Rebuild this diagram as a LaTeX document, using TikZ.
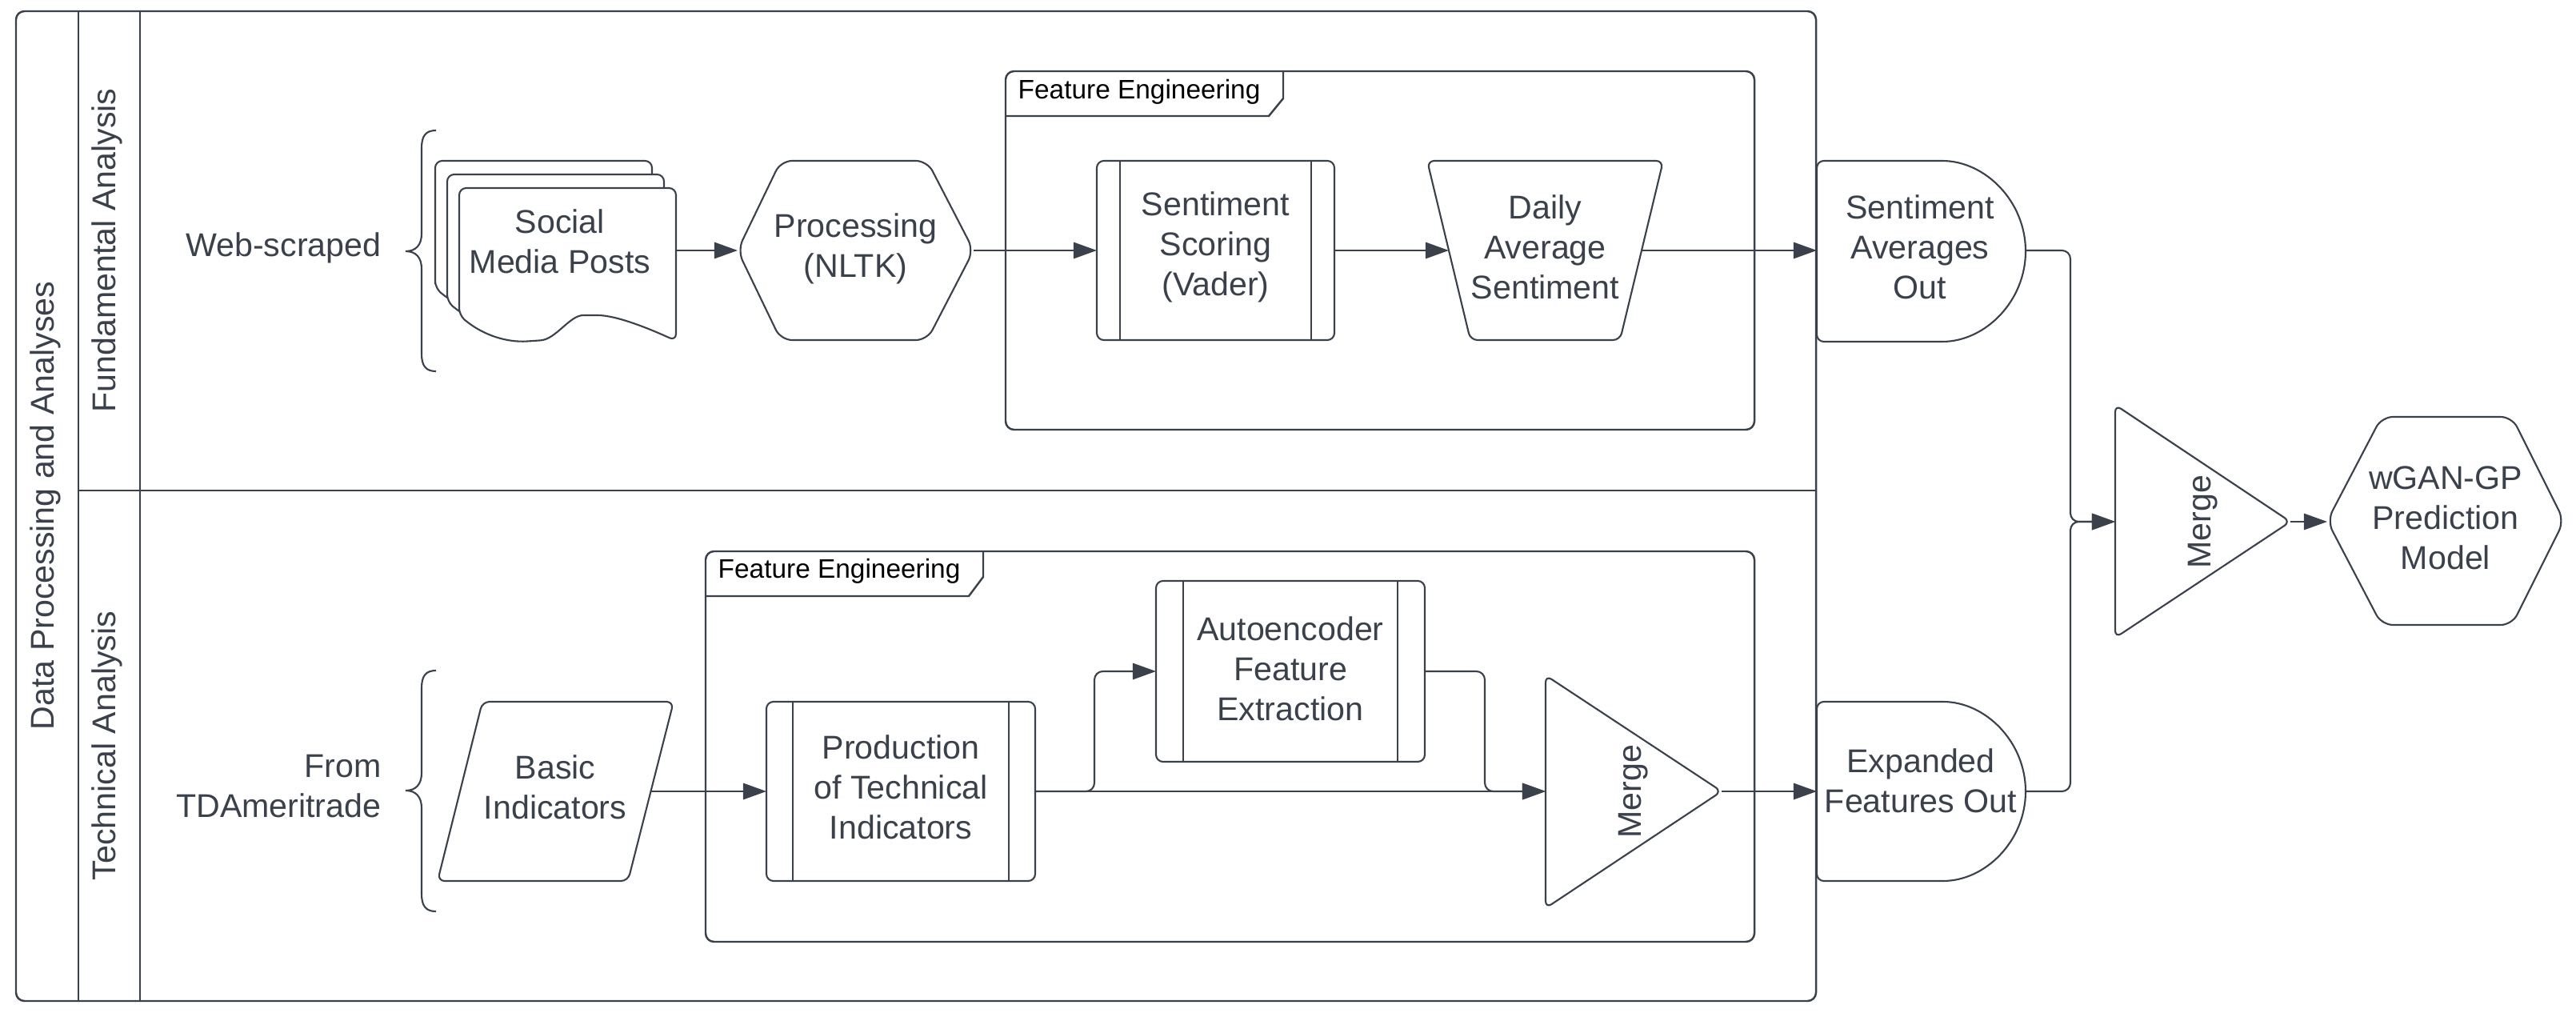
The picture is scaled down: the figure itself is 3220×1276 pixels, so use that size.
\documentclass[tikz,border=0pt]{standalone}
\usepackage{fontspec}
\setmainfont{Liberation Sans}
\usetikzlibrary{arrows.meta,calc}
\definecolor{ln}{HTML}{3A414A}
\begin{document}
\begin{tikzpicture}[x=0.01cm,y=-0.01cm,color=ln,
  frm/.style={draw=ln, line width=0.7pt},
  shp/.style={draw=ln, fill=white, line width=0.6pt, rounded corners=2.5pt},
  conn/.style={draw=ln, line width=0.6pt, -{Triangle[length=8.3pt,width=5.8pt]}, rounded corners=3pt},
  lbl/.style={align=center, inner sep=0pt, text=ln, font=\fontsize{11.7pt}{14.2pt}\selectfont},
  felbl/.style={inner sep=0pt, text=black, anchor=west, font=\fontsize{9.5pt}{11pt}\selectfont},
  sz/.style 2 args={minimum width=#1*0.01cm, minimum height=#2*0.01cm},
  brc/.style={draw=ln, line width=0.6pt}]
\useasboundingbox (0,0) rectangle (3220,1276);

% ---------- swimlane frame ----------
\draw[frm, rounded corners=3pt] (20,14) rectangle (2270,1251);
\draw[frm] (98,14) -- (98,1251);
\draw[frm] (175,14) -- (175,1251);
\draw[frm] (98,613) -- (2270,613);
\node[lbl, rotate=90] (lane0) at (57,632) {Data Processing and Analyses};
\node[lbl, rotate=90] (lane1) at (134,313) {Fundamental Analysis};
\node[lbl, rotate=90] (lane2) at (134,932) {Technical Analysis};

% ---------- feature engineering frames ----------
\draw[frm, rounded corners=3pt] (1257,89) rectangle (2193,537);
\draw[frm] (1257,145) -- (1586,145) -- (1604,123) -- (1604,89);
\node[felbl] (fe1) at (1272,115) {Feature Engineering};
\draw[frm, rounded corners=3pt] (882,689) rectangle (2193,1177);
\draw[frm] (882,745) -- (1211,745) -- (1229,721) -- (1229,689);
\node[felbl] (fe2) at (897,714) {Feature Engineering};

% ---------- sources ----------
\node[lbl, anchor=east] (src1) at (477,310) {Web-scraped};
\draw[brc] (545,163) .. controls (532,163) and (527,170) .. (527,185) -- (527,292)
  .. controls (527,306) and (520,314) .. (507,314)
  .. controls (520,314) and (527,322) .. (527,336) -- (527,442)
  .. controls (527,457) and (532,464) .. (545,464);
\node[lbl, anchor=east, align=right] (src2) at (477,983) {From\\TDAmeritrade};
\draw[brc] (545,838) .. controls (532,838) and (527,845) .. (527,860) -- (527,966)
  .. controls (527,980) and (520,988) .. (507,988)
  .. controls (520,988) and (527,996) .. (527,1010) -- (527,1117)
  .. controls (527,1132) and (532,1139) .. (545,1139);

% ---------- upper lane shapes ----------
\foreach \dx/\dy in {-30/-34,-15/-17,0/0}{
  \begin{scope}[shift={(\dx,\dy)}]
  \path[shp] (574,394) -- (574,235) -- (845,235) -- (845,426)
    .. controls (810,410) and (770,394) .. (738,394)
    .. controls (712,394) and (695,424) .. (667,426)
    .. controls (635,428) and (605,420) .. (574,394) -- cycle;
  \end{scope}
}
\node[lbl, sz={290}{135}] (docs) at (700,302) {Social\\Media Posts};

\path[shp, rounded corners=4pt] (922,313) -- (976,201) -- (1159,201) -- (1217,313) -- (1159,425) -- (976,425) -- cycle;
\node[lbl, sz={295}{224}] (proc) at (1069.5,311) {Processing\\(NLTK)};

\path[shp] (1371,201) rectangle (1668,425);
\draw[line width=0.5pt] (1400,201) -- (1400,425) (1639,201) -- (1639,425);
\node[lbl, sz={297}{224}] (sent) at (1519.5,309) {Sentiment\\Scoring\\(Vader)};

\path[shp] (1784,201) -- (2079,201) -- (2025,425) -- (1838,425) -- cycle;
\node[lbl, sz={241}{224}] (daily) at (1931.5,309) {Daily\\Average\\Sentiment};

\path[shp] (2271,201) -- (2419,201) arc[start angle=-90, end angle=90, radius=113] -- (2271,427) -- cycle;
\node[lbl, sz={261}{226}] (sao) at (2400,309) {Sentiment\\Averages\\Out};

% ---------- lower lane shapes ----------
\path[shp] (603,877) -- (842,877) -- (785,1101) -- (547,1101) -- cycle;
\node[lbl, sz={238}{224}] (basic) at (694,984) {Basic\\Indicators};

\path[shp] (958,877) rectangle (1294,1101);
\draw[line width=0.5pt] (991,877) -- (991,1101) (1261,877) -- (1261,1101);
\node[lbl, sz={336}{224}] (prod) at (1126,984) {Production\\of Technical\\Indicators};

\path[shp] (1445,726) rectangle (1781,952);
\draw[line width=0.5pt] (1479,726) -- (1479,952) (1747,726) -- (1747,952);
\node[lbl, sz={336}{226}] (auto) at (1613,836) {Autoencoder\\Feature\\Extraction};

\path[shp] (1932,844) -- (2152,989) -- (1932,1135) -- cycle;
\node[lbl, sz={220}{291}] (merge1) at (2042,989) {\rotatebox{90}{Merge}};

\path[shp] (2271,877) -- (2420,877) arc[start angle=-90, end angle=90, radius=112] -- (2271,1101) -- cycle;
\node[lbl, sz={261}{224}] (exp) at (2401,976) {Expanded\\Features Out};

% ---------- right side ----------
\path[shp] (2644,506) -- (2863,652) -- (2644,797) -- cycle;
\node[lbl, sz={219}{291}] (merge2) at (2753.5,652) {\rotatebox{90}{Merge}};

\path[shp, rounded corners=4pt] (2909,651) -- (2977,521) -- (3140,521) -- (3205,651) -- (3140,781) -- (2977,781) -- cycle;
\node[lbl, sz={296}{260}] (wgan) at (3057,647) {wGAN-GP\\Prediction\\Model};

% ---------- connectors ----------
\draw[conn] (845,313) -- (922,313);
\draw[conn] (1217,313) -- (1371,313);
\draw[conn] (1668,313) -- (1811,313);
\draw[conn] (2052,313) -- (2271,313);
\draw[conn] (813,989) -- (958,989);
\draw[conn] (1294,989) -- (1932,989);
\draw[conn] (1294,989) -- (1368,989) |- (1445,839);
\draw[conn] (1781,839) -- (1856,839) |- (1932,989);
\draw[conn] (2152,989) -- (2271,989);
\draw[conn] (2532,313) -- (2588,313) |- (2644,652);
\draw[conn] (2532,989) -- (2588,989) |- (2644,652);
\draw[conn] (2863,652) -- (2909,652);
\end{tikzpicture}
\end{document}
